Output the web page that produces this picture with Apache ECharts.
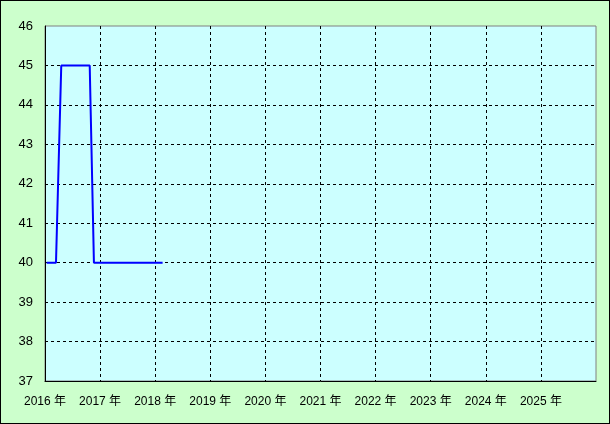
<!DOCTYPE html>
<html>
<head>
<meta charset="utf-8">
<script src="https://cdn.jsdelivr.net/npm/echarts@6/dist/echarts.min.js"></script>
<style>
html,body{margin:0;padding:0;background:#fff;}
#c{width:608px;height:422px;border:1px solid #000;background:#CCFFCC;}
</style>
</head>
<body>
<div id="c"></div>
<script>
// data
var dates = ['2016-01-12','2016-03-14','2016-03-21','2016-03-28','2016-04-04','2016-04-11','2016-04-18',
             '2016-10-24','2016-10-31','2016-11-07','2016-11-14','2016-11-21','2018-02-19'];
var values = [40,40,41,42,43,44,45,45,43.75,42.5,41.25,40,40];
var yearTicks = [2016,2017,2018,2019,2020,2021,2022,2023,2024,2025];

function decYear(s){
  var d = new Date(s + 'T00:00:00Z');
  var y = d.getUTCFullYear();
  var a = Date.UTC(y,0,1), b = Date.UTC(y+1,0,1);
  return y + (d.getTime()-a)/(b-a);
}
var seriesData = dates.map(function(s,i){ return [decYear(s), values[i]]; });

var chart = echarts.init(document.getElementById('c'), null, {renderer:'canvas'});
chart.setOption({
  animation:false,
  backgroundColor:'#CCFFCC',
  grid:{left:44,top:25,width:551,height:355,show:true,backgroundColor:'#CCFFFF',borderColor:'#808080',borderWidth:1,containLabel:false},
  xAxis:{
    type:'value',min:2016,max:2026,interval:1,
    axisLine:{show:true,lineStyle:{color:'#000',width:1}},
    axisTick:{show:false},
    axisLabel:{color:'#000',fontSize:12,fontFamily:'"Liberation Sans", "Noto Sans CJK JP", sans-serif',margin:15,showMaxLabel:false,
      formatter:function(v){ return yearTicks.indexOf(v)>=0 ? v+' 年' : ''; }},
    splitLine:{show:true,showMinLine:false,showMaxLine:false,lineStyle:{color:'#000',type:[3,3],width:1}}
  },
  yAxis:{
    type:'value',min:37,max:46,interval:1,
    axisLine:{show:true,lineStyle:{color:'#000',width:1}},
    axisTick:{show:false},
    axisLabel:{color:'#000',fontSize:13,fontFamily:'"Liberation Sans", Arial, sans-serif',margin:12},
    splitLine:{show:true,showMinLine:false,showMaxLine:false,lineStyle:{color:'#000',type:[3,3],width:1}}
  },
  series:[{
    type:'line',data:seriesData,showSymbol:false,symbol:'none',
    lineStyle:{color:'#0000FF',width:2},
    z:5
  }]
});
</script>
</body>
</html>
